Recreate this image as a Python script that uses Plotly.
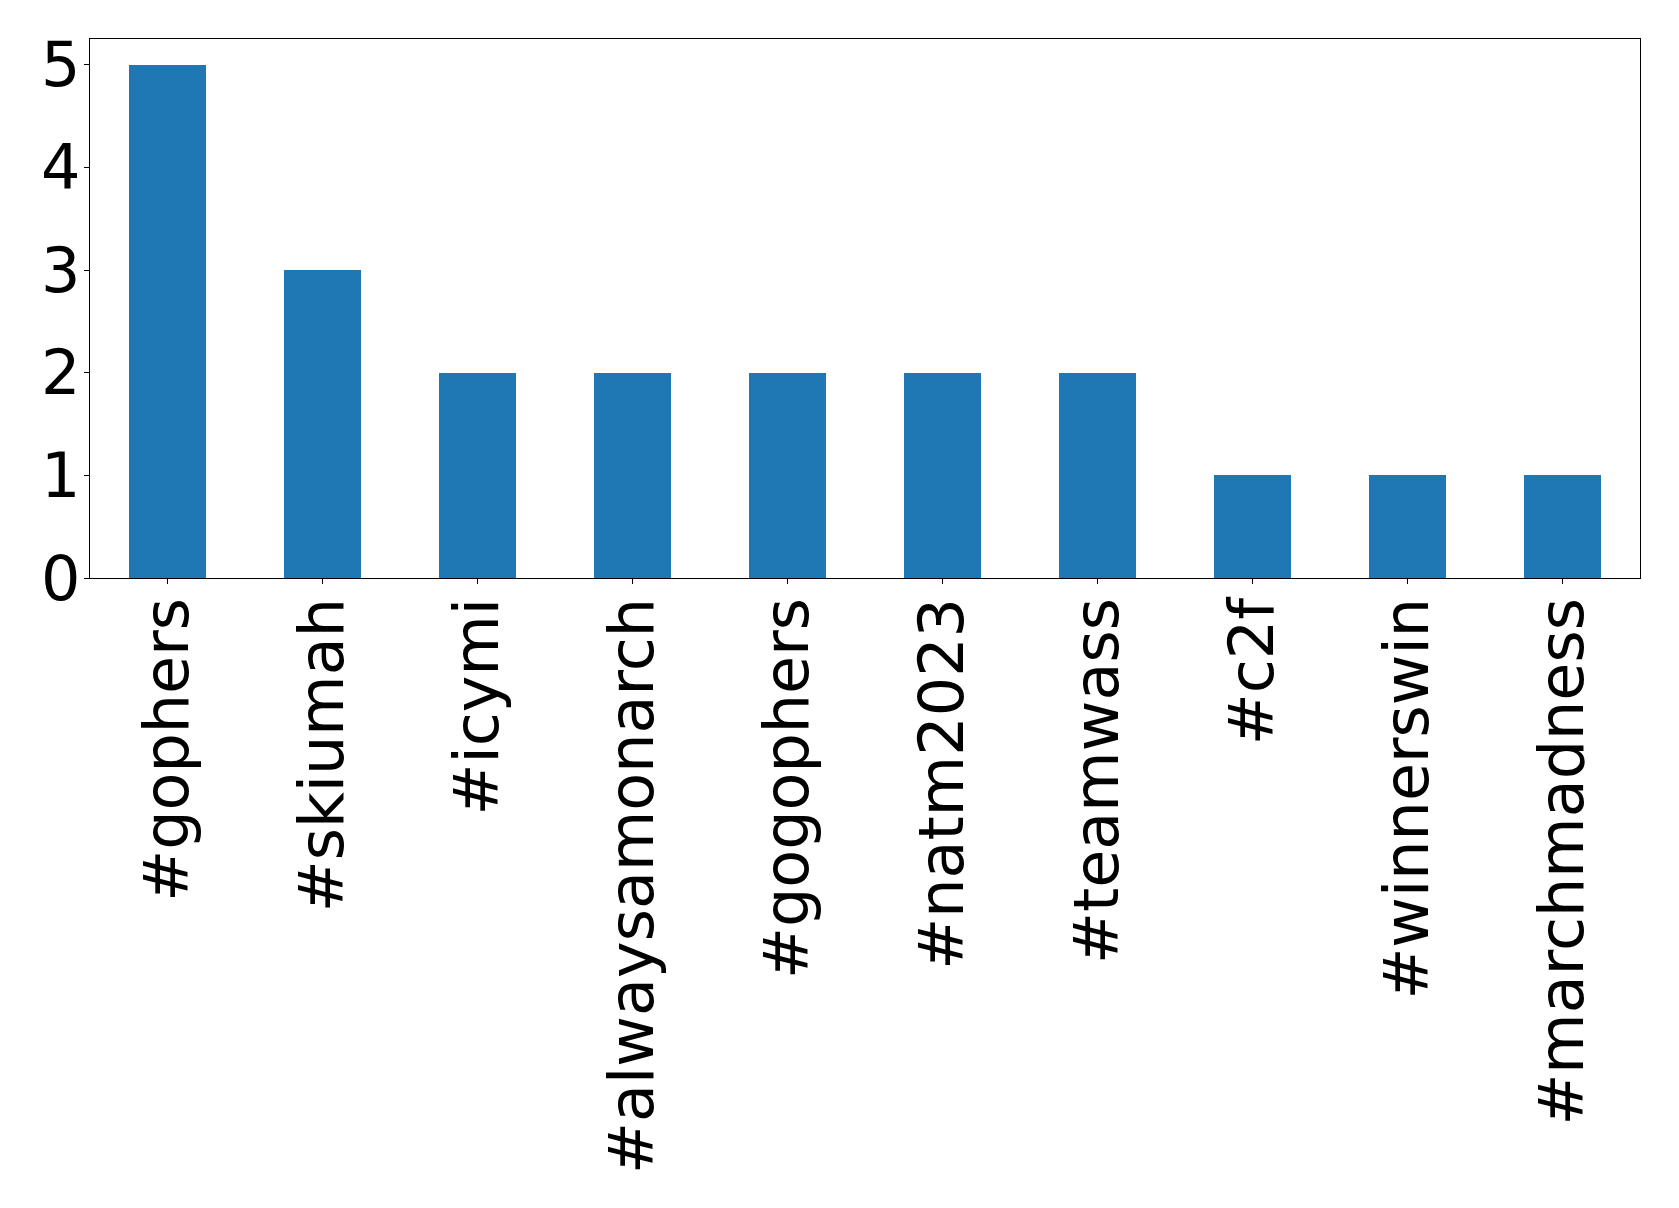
import plotly.graph_objects as go

tags = ["#gophers", "#skiumah", "#icymi", "#alwaysamonarch", "#gogophers",
        "#natm2023", "#teamwass", "#c2f", "#winnerswin", "#marchmadness"]
counts = [5, 3, 2, 2, 2, 2, 2, 1, 1, 1]
y_ticks = [0, 1, 2, 3, 4, 5]

fig = go.Figure(go.Bar(x=list(range(len(tags))), y=counts, width=0.5,
                       marker=dict(color="#1f77b4", line=dict(width=0))))

fig.update_layout(
    width=1679, height=1208,
    margin=dict(l=82, r=47, t=31, b=638, autoexpand=False),
    paper_bgcolor="white", plot_bgcolor="white",
    font=dict(family="DejaVu Sans", size=62, color="black"),
    showlegend=False,
    bargap=0,
)
fig.update_xaxes(
    range=[-0.5, len(tags) - 0.5],
    tickmode="array", tickvals=list(range(len(tags))), ticktext=tags,
    tickangle=-90,
    showline=True, linecolor="black", linewidth=1.3, mirror=True,
    ticks="outside", ticklen=5, tickwidth=1.3, tickcolor="black",
    showgrid=False, zeroline=False,
    ticklabelstandoff=-11,
)
fig.update_yaxes(
    range=[0, 5.25],
    tickmode="array", tickvals=y_ticks,
    showline=True, linecolor="black", linewidth=1.3, mirror=True,
    ticks="outside", ticklen=5, tickwidth=1.3, tickcolor="black",
    showgrid=False, zeroline=False,
    ticklabelstandoff=-9,
)

fig.write_html("out.html")
